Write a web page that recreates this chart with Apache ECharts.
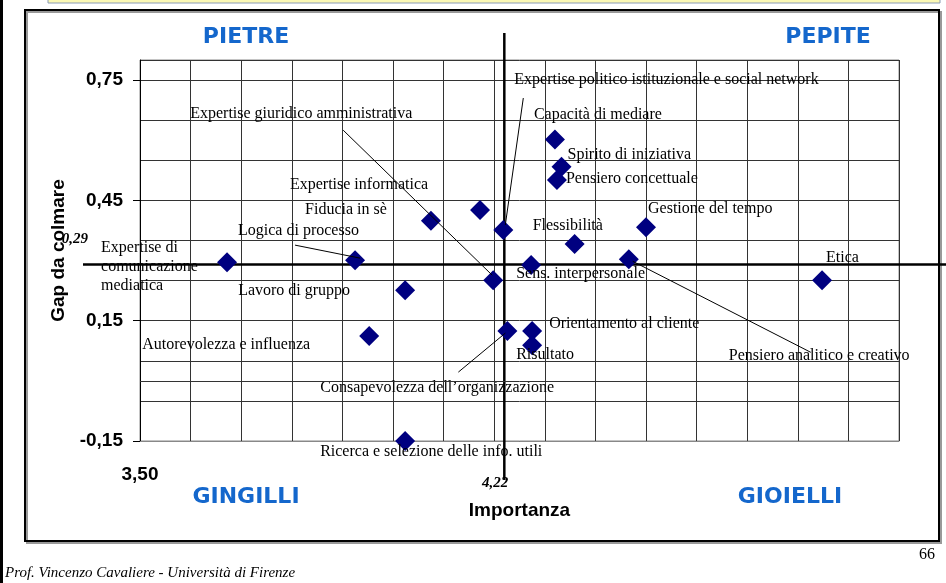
<!DOCTYPE html>
<html>
<head>
<meta charset="utf-8">
<title>Gap da colmare / Importanza</title>
<script src="https://cdn.jsdelivr.net/npm/echarts@6/dist/echarts.min.js"></script>
<style>
    html, body { margin: 0; padding: 0; background: #fff; }
    #main { width: 946px; height: 583px; }
</style>
</head>
<body>
<div id="main"></div>
<script>
// competenze e valori
var competenze = [
    'Expertise di\ncomunicazione\nmediatica',
    'Logica di processo',
    'Lavoro di gruppo',
    'Autorevolezza e influenza',
    'Ricerca e selezione delle info. utili',
    'Expertise informatica',
    'Fiducia in sè',
    'Expertise politico istituzionale e social network',
    'Expertise giuridico amministrativa',
    'Sens. interpersonale',
    'Flessibilità',
    'Gestione del tempo',
    'Pensiero analitico e creativo',
    'Etica',
    'Capacità di mediare',
    'Spirito di iniziativa',
    'Pensiero concettuale',
    'Consapevolezza dell’organizzazione',
    'Orientamento al cliente',
    'Risultato'
];
var importanza = [3.672, 3.925, 4.024, 3.953, 4.024, 4.075, 4.172, 4.218, 4.198, 4.273,
                  4.359, 4.500, 4.466, 4.848, 4.320, 4.333, 4.324, 4.226, 4.275, 4.275];
var gap = [0.296, 0.301, 0.226, 0.112, -0.150, 0.399, 0.426, 0.376, 0.251, 0.289,
           0.341, 0.383, 0.303, 0.251, 0.602, 0.534, 0.501, 0.124, 0.124, 0.089];
var mediaImportanza = 4.22;
var mediaGap = 0.29;
var xTickLabels = [3.5];
var yTickLabels = [-0.15, 0.15, 0.45, 0.75];
var quadranti = ['PIETRE', 'PEPITE', 'GINGILLI', 'GIOIELLI'];

// posizione delle etichette rispetto al punto (px)
var labelOffset = [
    [-126, 5], [-117, -29], [-167, 1], [-227, 9], [-85, 11],
    [-141, -36], [-175, 0], [11, -150], [-303, -166], [-15, 9],
    [-42, -18], [2, -18], [100, 96], [4, -22], [-21, -25],
    [6, -12], [9, -1], [-187, 57], [17, -7], [-16, 10]
];
// linee di richiamo: indice, inizio e fine rispetto al punto (px)
var richiami = [
    [1, [5, -2], [-60, -15]],
    [7, [2, -5], [20, -132]],
    [8, [-1, -5], [-150, -150]],
    [12, [4, 2], [182, 93]],
    [17, [-2, 2], [-49, 41]]
];

var serif = '"Liberation Serif", "Times New Roman", serif';
var sans = '"Liberation Sans", Arial, sans-serif';
var blu = '#1467cc';

function virgola(v, d) {
    return v.toFixed(d).replace('.', ',');
}
function inLista(v, lista) {
    for (var i = 0; i < lista.length; i++) {
        if (Math.abs(v - lista[i]) < 1e-6) return true;
    }
    return false;
}

var punti = importanza.map(function (x, i) {
    return { name: competenze[i], value: [x, gap[i]] };
});

var chart = echarts.init(document.getElementById('main'));

var option = {
    animation: false,
    backgroundColor: '#fff',
    grid: {
        left: 140, top: 60, right: 47, bottom: 142,
        show: true, borderColor: '#888', borderWidth: 1
    },
    xAxis: {
        type: 'value',
        min: 3.5, max: 5.0, interval: 0.1,
        name: 'Importanza',
        nameLocation: 'middle',
        nameGap: 60,
        nameTextStyle: { fontFamily: sans, fontWeight: 'bold', fontSize: 19, color: '#000' },
        axisLine: { show: true, onZero: false, lineStyle: { color: '#888' } },
        axisTick: { show: false },
        axisLabel: {
            margin: 24, fontFamily: sans, fontWeight: 'bold', fontSize: 19, color: '#000',
            formatter: function (v) { return inLista(v, xTickLabels) ? virgola(v, 2) : ''; }
        },
        splitLine: { show: true, lineStyle: { color: '#333', width: 1 } }
    },
    yAxis: [{
        type: 'value',
        min: -0.15, max: 0.8, interval: 0.1,
        name: 'Gap da colmare',
        nameLocation: 'middle',
        nameGap: 72,
        nameRotate: 90,
        nameTextStyle: { fontFamily: sans, fontWeight: 'bold', fontSize: 19, color: '#000' },
        axisLine: { show: true, onZero: false, lineStyle: { color: '#000' } },
        axisTick: { show: false },
        axisLabel: { show: false },
        splitLine: { show: true, lineStyle: { color: '#333', width: 1 } }
    }, {
        type: 'value',
        min: -0.15, max: 0.8, interval: 0.3,
        position: 'left',
        axisLine: { show: false },
        axisTick: { show: true, length: 7, lineStyle: { color: '#000' } },
        axisLabel: {
            margin: 17, fontFamily: sans, fontWeight: 'bold', fontSize: 19, color: '#000',
            showMaxLabel: false,
            formatter: function (v) { return inLista(v, yTickLabels) ? virgola(v, 2) : ''; }
        },
        splitLine: { show: false }
    }],
    series: [{
        type: 'scatter',
        clip: false,
        symbol: 'diamond',
        symbolSize: 20,
        itemStyle: { color: '#000080', opacity: 1 },
        emphasis: { disabled: true },
        label: {
            show: true,
            formatter: '{b}',
            position: 'inside',
            align: 'left',
            verticalAlign: 'middle',
            fontFamily: serif,
            fontSize: 16,
            lineHeight: 19,
            color: '#000',
            textBorderWidth: 0,
            textShadowBlur: 0
        },
        labelLayout: function (params) {
            var o = labelOffset[params.dataIndex];
            return { dx: o[0], dy: o[1], hideOverlap: false };
        },
        data: punti,
        markLine: {
            silent: true,
            symbol: 'none',
            label: { show: false },
            lineStyle: { color: '#333', width: 1, type: 'solid' },
            data: [{ yAxis: 0 }]
        }
    }]
};
chart.setOption(option);

// elementi grafici calcolati dalle scale
var mx = chart.convertToPixel({ xAxisIndex: 0 }, mediaImportanza);
var my = chart.convertToPixel({ yAxisIndex: 0 }, mediaGap);

var grafica = [
    // bordo pagina
    { type: 'rect', shape: { x: 0, y: 0, width: 3, height: 583 }, style: { fill: '#000' }, z: 0 },
    { type: 'rect', shape: { x: 48, y: -10, width: 892, height: 13 },
      style: { fill: '#fbf8b4', stroke: '#8a9bb5', lineWidth: 1 }, z: 0 },
    { type: 'rect', shape: { x: 27, y: 12, width: 914, height: 531 },
      style: { fill: 'none', stroke: '#999', lineWidth: 2 }, z: 0 },
    { type: 'rect', shape: { x: 25, y: 10, width: 914, height: 531 },
      style: { fill: 'none', stroke: '#000', lineWidth: 2 }, z: 0 },
    // medie
    { type: 'line', shape: { x1: mx, y1: 33, x2: mx, y2: 480 },
      style: { stroke: '#000', lineWidth: 2.5 }, z: 1 },
    { type: 'line', shape: { x1: 83, y1: my, x2: 946, y2: my },
      style: { stroke: '#000', lineWidth: 2.5 }, z: 1 },
    { type: 'text', x: 88, y: my - 25, z: 5,
      style: { text: virgola(mediaGap, 2), fill: '#000', font: 'italic bold 15px ' + serif, textAlign: 'right', textVerticalAlign: 'middle' } },
    { type: 'text', x: mx + 4, y: 483, z: 5,
      style: { text: virgola(mediaImportanza, 2), fill: '#000', font: 'italic bold 15px ' + serif, textAlign: 'right', textVerticalAlign: 'middle' } },
    // quadranti
    { type: 'text', x: 246, y: 37, z: 5,
      style: { text: quadranti[0], fill: blu, font: 'bold 22px "DejaVu Sans", Verdana, sans-serif', textAlign: 'center', textVerticalAlign: 'middle' } },
    { type: 'text', x: 828, y: 37, z: 5,
      style: { text: quadranti[1], fill: blu, font: 'bold 22px "DejaVu Sans", Verdana, sans-serif', textAlign: 'center', textVerticalAlign: 'middle' } },
    { type: 'text', x: 246, y: 497, z: 5,
      style: { text: quadranti[2], fill: blu, font: 'bold 22px "DejaVu Sans", Verdana, sans-serif', textAlign: 'center', textVerticalAlign: 'middle' } },
    { type: 'text', x: 790, y: 497, z: 5,
      style: { text: quadranti[3], fill: blu, font: 'bold 22px "DejaVu Sans", Verdana, sans-serif', textAlign: 'center', textVerticalAlign: 'middle' } },
    // piè di pagina
    { type: 'text', x: 935, y: 555, z: 5,
      style: { text: '66', fill: '#000', font: '16px ' + serif, textAlign: 'right', textVerticalAlign: 'middle' } },
    { type: 'text', x: 5, y: 573, z: 5,
      style: { text: 'Prof. Vincenzo Cavaliere - Università di Firenze', fill: '#000', font: 'italic 15px ' + serif, textAlign: 'left', textVerticalAlign: 'middle' } }
];

richiami.forEach(function (r) {
    var p = chart.convertToPixel({ gridIndex: 0 }, [importanza[r[0]], gap[r[0]]]);
    grafica.push({
        type: 'line',
        shape: { x1: p[0] + r[1][0], y1: p[1] + r[1][1], x2: p[0] + r[2][0], y2: p[1] + r[2][1] },
        style: { stroke: '#000', lineWidth: 1 },
        z: 10
    });
});

chart.setOption({ graphic: grafica });
</script>
</body>
</html>
